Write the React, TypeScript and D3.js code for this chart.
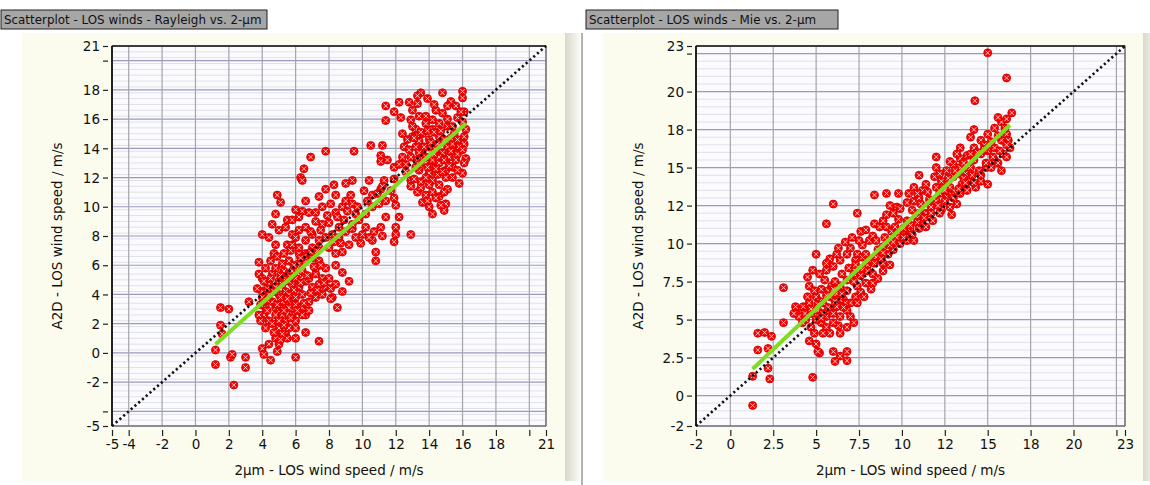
import * as d3 from 'd3';
import React, { useRef, useEffect } from 'react';

// Rayleigh vs 2-um (left panel), values in m/s
const rayleighPoints: [number, number][] = [
  [13.5,17.8],[13.3,17.6],[14.8,17.8],[16,17.9],[16,17.45],[12.2,17.15],[12.8,17.15],[13.3,17.05],[11.4,16.9],[11.9,16.5],
  [11.4,15.9],[15.3,17.2],[15.1,16.9],[14.8,16.4],[16.1,16.5],[12.9,15.95],[13.4,16.2],[13.8,15.7],[14.2,15.95],[14.6,15.7],
  [15.1,15.5],[15.7,16.1],[13.2,15.3],[13.6,15],[14.2,15.3],[12.4,15],[12.7,14.6],[13,14.8],[13.4,14.5],[14,14.6],
  [14.6,14.8],[15.5,15],[16.1,14.8],[16.1,14.3],[12.5,14.1],[12.8,13.9],[15.1,14.1],[15.6,13.8],[16.2,13.3],[13.3,13.2],
  [13.8,13],[14.2,13.2],[14.6,13],[15,13.2],[15.4,12.7],[16,12.3],[13.4,12.5],[14,12.3],[14.5,12.2],[15,12],
  [12.9,11.8],[13.5,11.7],[14.2,11.8],[12.9,11.4],[13.3,11],[13.8,10.8],[13.6,10.3],[14,10],[14.2,9.5],[14.6,10.7],
  [15,10.2],[14.9,9.75],[14.7,10.1],[13.2,14.1],[13.6,13.9],[14,14.1],[14.4,13.9],[14.8,13.7],[15.2,13.4],[15.6,13.2],
  [12.9,13.4],[13.4,13.7],[13.8,13.4],[14.6,13.4],[14.2,12.7],[15,12.5],[15.4,12],[13.2,12.7],[13.8,12],[14.6,11.5],
  [14.2,11],[13,15.5],[13.8,16.2],[14.4,16.6],[15.1,16],[15.4,15.5],[16,15.8],[16.2,15.3],[15.8,14.1],[15.4,14.3],
  [13.1,14.7],[13.5,15.1],[13.9,15.2],[14.3,15.1],[14.7,15.2],[15.3,14.7],[15.7,14.6],[14.1,14.4],[14.5,14.3],[14.9,14.6],
  [13.7,14.1],[14.3,13.6],[14.9,13.2],[15.3,13.8],[15.7,13.6],[16,13.9],[13.4,12.9],[13.9,12.7],[14.4,12.6],[14.8,12.4],
  [15.2,12.8],[13.1,11.9],[13.5,11.3],[14,11.5],[14.4,10.6],[13.9,10.4],[12.6,12.4],[12.6,12.9],[13,16.6],[13.9,17.4],
  [14.3,17],[15.6,16.9],[15.9,16.5],[12.3,16.1],[16.1,13],[15.7,12.5],[15.8,11.6],[15.1,11.2],[14.9,11],
  [10.5,14.2],[11.2,14.2],[11.1,13.5],[11.1,13.1],[11.5,13.2],[9.5,13.8],[7.8,13.8],[6.9,13.4],[6.5,12.6],[6.3,12],
  [6.4,11.8],[11.9,12.7],[12.4,13.4],[12.2,12.9],[11.9,11.9],[11.3,11.8],[10.4,11.8],[9.4,11.8],[9,11.6],[8.3,11.5],
  [7.8,11.2],[7.4,10.7],[8.4,10.8],[9.3,10.8],[10.1,11.1],[10.6,10.8],[11.1,11.2],[11.9,10.6],[12,10.1],[12.2,9.3],
  [12,8.6],[12,8.1],[11.9,7.6],[12.9,8.1],[11.4,9.3],[11.1,8.6],[11.2,8],[10.7,8.3],[10.6,7.7],[10.8,6.9],
  [10.8,6.3],[9.8,9.2],[9.4,8.5],[9.6,7.9],[9.2,7.4],[8.8,6.9],[8.6,7.9],[8.9,9.1],[8.4,9.6],[7.9,9.4],
  [7.6,8.8],[7.2,9],[6.8,9.6],[6.6,10.4],[6.4,9.7],[6,9.8],[5.5,9.1],[4.9,10.8],[5.1,10.3],[4.8,9.5],
  [4.6,8.8],[5,8.4],[4,8.1],[4.4,7.9],[4.8,7.4],[5.5,7.4],[4.7,6.8],[3.8,6.2],[5.7,7],[6.2,6.8],
  [6.6,7.7],[7,8.1],[7.4,7.2],[8,7.2],[8.4,6.8],[8.4,6],[8.8,5.5],[9.2,4.9],[8.8,4.2],[8.5,3.1],
  [8.2,3.8],[7.4,0.8],[6.6,1.4],[6,1],[6,-0.3],[8.2,8.1],[8.6,8.6],[9,8.3],[9.4,8.8],[9.8,9.1],
  [10.2,9.5],[10.6,10],[11,10.2],[11.4,10.4],[11.7,11.1],[10.2,8.6],[10.4,7.9],[7.8,7.9],[7.4,7.7],[7,7.2],
  [6.6,8.6],[6.2,8.4],[5.8,8.1],[5.4,8.6],[5.8,9.1],[6.2,9.3],[7.2,9.6],[7.6,10],[8.1,10.2],[8.8,10],
  [9,10.4],[9.4,10.2],[9.6,9.5],[4.2,5.8],[4.6,5.4],[5,4.9],[5.4,5.1],[5.8,5.6],[6.2,6.1],[6.6,6.3],
  [7,6.5],[7.4,6.3],[7.8,5.8],[6.2,5.4],[6.6,4.9],[7,4.5],[7.4,4.7],[7.8,4.5],[5.8,4.7],[5.4,4.2],
  [5,4],[4.6,3.5],[4.2,3.1],[4.1,2.6],[4.4,2.2],[4.8,2.6],[5.2,3.1],[5.6,3.5],[6,3.8],[6.4,4],
  [6.8,3.5],[7.2,3.8],[7.6,4],[6.2,3.1],[6.6,2.6],[5.8,2.6],[5.4,2.2],[5,1.7],[5.4,1.3],[5,0.6],
  [4.9,0.1],[4.4,0.6],[4,0.3],[4.1,-0.1],[4.5,-0.5],[5.5,1],[6,2.2],[8.1,3.7],[6.2,4.5],[6.8,5.1],
  [7.2,5.4],[5.6,6.3],[5.2,6.1],[4.8,5.8],[4.4,4.7],[4,4.2],[4,3.8],[4.4,4],[4.8,4.5],[5.2,4.7],
  [5.6,4.9],[6,5.1],[6.4,5.6],[6.6,6.8],[6.2,7.2],[5.8,7.4],[7.2,5.8],[7.6,5.1],[8,5.1],[8.1,4.4],
  [8.4,4.7],[5.2,3.5],[5.6,4],[4.8,3.1],[5.2,2.6],[5.6,3.1],[6,3.3],[6.4,3.1],[6.8,2.9],[6.4,2.6],
  [6,1.7],[5.6,1.7],[5.2,1.3],[4.8,1],[4.2,1.7],[3.9,2.2],[3.8,2.6],[1.5,3.1],[2,3],[1.5,1.9],
  [1.2,0.2],[1.2,-0.8],[2.1,-0.3],[2.2,-0.1],[3,-0.3],[3,-1],[2.3,-2.2],[1.6,1.3],[3.2,3.5],[3.7,4.4],
  [3.8,5.4],[4,5.1],[4.3,4.4],[4.7,4.2],[5.1,3.8],[5.5,3.7],[5.9,4.3],[6.3,4.8],[6.7,5.3],[7.1,5.9],
  [7.5,6],[5.3,5.6],[5.7,5.2],[6.1,5.8],[6.5,6.6],[6.9,6.9],[7.3,7],[4.5,6.3],[4.9,6.6],[5.3,6.8],
  [5.1,5.3],[4.9,3.3],[5.3,2.9],[5.7,2.4],[6.1,2.9],[6.5,3.4],[6.9,4.1],[7.3,4.3],[7.7,4.8],[4.3,2.9],
  [4.6,2],[5,2.2],[5.3,1.9],[4.7,1.4],[5.1,0.9],[4.3,3.6],[3.9,3.3],[4.1,4.9],[4.5,5.1],[5.9,6],
  [6.3,6.5],[6,7.9],[6.9,8.3],[7.5,8.4],[8,8.9],[8.5,9.3],[9.1,9.7],[9.7,10],[10.3,10.4],[10.9,10.9],
  [11.2,11.4],[9.9,7.5],[10,8.1],[8.7,7.5],[8.3,7.6],
];

// Mie vs 2-um (right panel)
const miePoints: [number, number][] = [
  [15,22.55],[16.1,20.9],[14.25,19.4],[6,12.6],[7.4,12],[5.6,11.3],[3.1,7.1],[3.1,4.8],[5,9.3],[4.8,1.2],
  [1.3,-0.65],[1.6,4.1],[2,4.15],[2.4,3.9],[1.6,3],[2.2,3.1],[2.2,1.8],[2.3,1.1],[1.3,1.27],[5.2,2.8],
  [6,2.9],[6.4,2.6],[6.8,2.9],[6.8,2.3],[6.3,4.6],[6.1,2.25],[4,5.4],[4.25,5.85],[4.6,6.1],[4.4,5],
  [4.7,4.5],[4.9,4.1],[5,3.4],[5.1,2.9],[4.6,3.6],[5.3,4.8],[5.6,5.2],[6,4.8],[6.4,5.2],[6.8,5.6],
  [7,6.1],[7.3,6.5],[6.6,6.3],[6.2,5.85],[5.8,5.6],[5.4,6.1],[5,6.5],[4.6,7.2],[4.5,7.8],[4.8,8.25],
  [5.2,8],[5.6,8.25],[5.5,7.6],[5.9,7.2],[6.2,6.7],[6.4,7.2],[6.8,7.6],[7.2,8],[7.4,7.2],[7.6,6.8],
  [7.9,7.4],[8.3,7.4],[8.3,8],[6,8.5],[6.4,8.9],[6.8,9.3],[7,9.7],[7.4,9.3],[7.3,8.9],[7.7,9.1],
  [7.9,9.3],[7.7,9.9],[6.2,9.3],[5.8,9],[5.6,8.7],[7.6,10.8],[7.9,10.9],[7.5,10.2],[8.1,10.2],[8.3,10.5],
  [8.5,10.2],[8.4,11.3],[8.7,11.1],[8.9,11.5],[9.1,11.9],[9.1,11.1],[9.4,10.8],[9,10.4],[8.9,9.8],[9.2,9.3],
  [9.5,9.6],[8.9,8.7],[9.1,13.3],[9.8,13.3],[8.4,13.2],[9.3,12.5],[9.7,12.4],[10.1,10.7],[10.3,10.2],[10.7,10.2],
  [10.5,10.8],[10.3,11.5],[10.6,12.2],[10.7,12.8],[11,13],[11.2,13.5],[11.1,12.6],[11,12],[11.1,11.4],[11.4,11.1],
  [11.4,12],[11.7,12.4],[12,12.8],[12.2,13.3],[12.6,13.1],[12.8,13.7],[12.4,13.9],[12.9,11.9],[13.2,12.6],[13.4,13.3],
  [13.7,13.7],[12,13.7],[11.9,14.4],[12,15],[12,15.7],[12.2,14.6],[12.6,14.8],[13,15.2],[13.4,15.6],[13.8,15.8],
  [14.2,16.3],[14.6,16.8],[15,17.2],[15.4,17.6],[15.8,18],[16.1,18.2],[14.2,17.5],[14,17],[13.4,16.3],[13.2,15.9],
  [12.8,15.4],[13.3,14.6],[13.7,14.6],[14,15],[14.2,15.5],[14.6,15.9],[15,16.1],[15.4,16.3],[15.8,16.8],[16.1,17.2],
  [16.2,16.8],[16.3,16.3],[15.8,14.8],[15,13.9],[14.6,14.1],[14.3,13.7],[14,14.1],[14.9,15],[15.4,15.5],[15.9,15.9],
  [16.1,15.7],[13.4,15],[13,14.4],[12.8,12.4],[12.5,13.5],[13.5,13.9],[11.4,13.9],[11,14.5],[10.7,13.7],[10.4,13.3],
  [10.1,10.4],[4.35,5.4],[4.7,5.4],[5.1,5.6],[5.4,5.4],[5,5],[5.6,4.5],[5.8,4.1],[5.4,4.1],[6.4,4.1],
  [6.8,4.5],[7.2,4.8],[6,5.4],[6.7,6.1],[5.8,6.5],[4,5.2],[3.7,5.4],[3.8,5.85],[4.2,4.8],[16.4,18.6],
  [15.6,18.3],[14.8,16.5],[13.6,14.3],[12.3,12.2],[11.6,12.9],[10.9,11.7],[9.8,11.6],[9.6,11.1],[8.6,9.6],[8,8.6],
  [4.5,6.5],[4.9,6.9],[5.3,7],[5.7,6.9],[6.1,7.5],[6.5,8],[6.9,8.4],[7.3,8.6],[7.7,8.3],[8.1,8.9],
  [8.5,9.1],[8.9,9.4],[9.3,9.9],[9.7,10.4],[10.1,11],[10.5,11.2],[10.9,11.4],[11.3,11.7],[11.7,12],[12.1,12.5],
  [12.5,12.8],[12.9,13.2],[13.3,13.6],[13.7,14],[14.1,14.5],[14.5,14.8],[14.9,15.3],[15.3,15.7],[15.7,16.1],[16.1,16.5],
  [5.2,6.2],[5.6,6.6],[6,7],[6.4,6.3],[6.8,6.9],[7.2,7.5],[7.6,7.9],[8,8.2],[8.4,8.7],[8.8,9],
  [5.3,5.1],[5.7,5.8],[6.1,6.2],[6.5,6.7],[4.7,5.7],[5.1,6],[6.3,9.7],[6.7,10.1],[7.1,10.4],[9.5,12],
  [9.9,12.3],[10.3,12.7],[10.9,13.3],[11.5,13.4],[12.3,14.1],[12.7,14.3],[13.1,14.8],[13.6,15.3],[14,15.9],[14.4,16],
  [14.8,16.2],[15.2,16.7],[15.6,17.1],[16,17.6],[15.2,15],[15.6,15.3],[14.6,14.5],[14.2,14],[13.8,13.5],[13,13],
  [12.2,12],[11.8,11.5],[11,11],[10.6,10.6],[9.9,10],[9.5,10.1],[7,5.2],[6.6,5.8],[7.4,6.1],[7.8,6.5],
  [8.2,7],[8.6,7.7],[8.9,8.2],[9.3,8.6],
];

const rayleighFit: [number, number][] = [[1.2, 0.6], [16.2, 15.7]];
const mieFit: [number, number][] = [[1.3, 1.75], [16.3, 17.8]];

const rayleighTicks = [-5, -4, -2, 0, 2, 4, 6, 8, 10, 12, 14, 16, 18, 20, 21];
const rayleighXLabels = ['-5', '-4', '-2', '0', '2', '4', '6', '8', '10', '12', '14', '16', '18', '', '21'];
const rayleighYLabels = ['-5', '', '-2', '0', '2', '4', '6', '8', '10', '12', '14', '16', '18', '', '21'];

const mieTicks = [-2, 0, 2.5, 5, 7.5, 10, 12.5, 15, 17.5, 20, 22.5, 23];
const mieLabels = ['-2', '0', '2.5', '5', '7.5', '10', '12', '15', '18', '20', '', '23'];

const FONT = 'DejaVu Sans, Verdana, sans-serif';

function draw(svgEl, cfg) {
  const svg = d3.select(svgEl).append('g');
  const x = d3.scaleLinear().domain(cfg.domain).range([cfg.left, cfg.right]);
  const y = d3.scaleLinear().domain(cfg.domain).range([cfg.bottom, cfg.top]);

  // panel + shadow
  svg.append('rect').attr('x', cfg.panelX).attr('y', 33).attr('width', cfg.panelW).attr('height', 448).attr('fill', '#fbfbee');
  svg.append('rect').attr('x', cfg.panelX + cfg.panelW).attr('y', 33).attr('width', 15).attr('height', 448).attr('fill', 'url(#shadow)');

  // title
  svg.append('rect').attr('x', cfg.titleX).attr('y', 10).attr('width', cfg.titleW).attr('height', 19)
    .attr('fill', '#a6a6a6').attr('stroke', '#202020').attr('stroke-width', 1);
  svg.append('text').attr('x', cfg.titleX + 3).attr('y', 24).attr('font-family', FONT).attr('font-size', 11.9)
    .attr('fill', '#111').text(cfg.title);

  // plot area
  svg.append('rect').attr('x', cfg.left).attr('y', cfg.top).attr('width', cfg.right - cfg.left)
    .attr('height', cfg.bottom - cfg.top).attr('fill', '#fbfbfe');

  const minor = d3.range(cfg.domain[0], cfg.domain[1] + 1e-6, cfg.minor);
  svg.append('g').selectAll('line').data(minor).enter().append('line')
    .attr('x1', cfg.left).attr('x2', cfg.right).attr('y1', d => y(d)).attr('y2', d => y(d))
    .attr('stroke', '#e0e0ea').attr('stroke-width', 1);
  svg.append('g').selectAll('line').data(cfg.ticks).enter().append('line')
    .attr('x1', cfg.left).attr('x2', cfg.right).attr('y1', d => y(d)).attr('y2', d => y(d))
    .attr('stroke', '#9a9ac0').attr('stroke-width', 1.2);
  svg.append('g').selectAll('line').data(cfg.ticks).enter().append('line')
    .attr('y1', cfg.top).attr('y2', cfg.bottom).attr('x1', d => x(d)).attr('x2', d => x(d))
    .attr('stroke', '#a4a4ac').attr('stroke-width', 1.2);

  // frame
  svg.append('rect').attr('x', cfg.left).attr('y', cfg.top).attr('width', cfg.right - cfg.left)
    .attr('height', cfg.bottom - cfg.top).attr('fill', 'none').attr('stroke', '#555').attr('stroke-width', 1);
  svg.append('line').attr('x1', cfg.left).attr('x2', cfg.right).attr('y1', cfg.top).attr('y2', cfg.top)
    .attr('stroke', '#222').attr('stroke-width', 1.5);
  svg.append('line').attr('x1', cfg.left).attr('x2', cfg.left).attr('y1', cfg.top).attr('y2', cfg.bottom)
    .attr('stroke', '#222').attr('stroke-width', 2);

  // axes
  const yAxis = d3.axisLeft(y).tickValues(cfg.ticks).tickFormat((d, i) => cfg.yLabels[i]).tickSize(5).tickPadding(3);
  const xAxis = d3.axisBottom(x).tickValues(cfg.ticks).tickFormat((d, i) => cfg.xLabels[i]).tickSize(6).tickPadding(3);
  const ya = svg.append('g').attr('transform', `translate(${cfg.left - 4},0)`).call(yAxis);
  const xa = svg.append('g').attr('transform', `translate(0,${cfg.bottom + 4})`).call(xAxis);
  [ya, xa].forEach(a => {
    a.select('.domain').remove();
    a.selectAll('line').attr('stroke', '#222').attr('stroke-width', 1.2);
    a.selectAll('text').attr('font-family', FONT).attr('font-size', 13.5).attr('fill', '#111');
  });
  ya.selectAll('text').attr('dy', '0.35em');

  // axis titles
  svg.append('text').attr('x', (cfg.left + cfg.right) / 2).attr('y', 475).attr('text-anchor', 'middle')
    .attr('font-family', FONT).attr('font-size', 13.5).attr('fill', '#111').text('2µm - LOS wind speed / m/s');
  svg.append('text').attr('transform', `translate(${cfg.left - cfg.yTitleOff},${(cfg.top + cfg.bottom) / 2}) rotate(-90)`)
    .attr('text-anchor', 'middle').attr('font-family', FONT).attr('font-size', 13.5).attr('fill', '#111')
    .text('A2D - LOS wind speed / m/s');

  // points
  const pts = svg.append('g');
  const mk = pts.selectAll('g').data(cfg.points).enter().append('g')
    .attr('transform', d => `translate(${x(d[0])},${y(d[1])})`);
  mk.append('circle').attr('r', 4).attr('fill', '#ff0000').attr('stroke', '#c80000').attr('stroke-width', 0.8);
  mk.append('path').attr('d', 'M-2.2,-2.2L2.2,2.2M-2.2,2.2L2.2,-2.2').attr('stroke', '#ffdede').attr('stroke-width', 0.9);

  // 1:1 line
  const ln = d3.line().x(d => x(d[0])).y(d => y(d[1]));
  svg.append('path').attr('d', ln([[cfg.domain[0], cfg.domain[0]], [cfg.domain[1], cfg.domain[1]]]))
    .attr('stroke', '#111').attr('stroke-width', 2.6).attr('stroke-dasharray', '2.2 2.8').attr('fill', 'none');

  // regression
  svg.append('path').attr('d', ln(cfg.fit)).attr('stroke', '#80dc20').attr('stroke-width', 4)
    .attr('fill', 'none');
}

export default function App() {
  const ref = useRef(null);
  useEffect(() => {
    d3.select(ref.current).selectAll('g').remove();
    draw(ref.current, {
      title: 'Scatterplot - LOS winds - Rayleigh vs. 2-µm', titleX: 1, titleW: 266,
      panelX: 22, panelW: 543, left: 112, right: 546, top: 46, bottom: 426, yTitleOff: 50,
      domain: [-5, 21], ticks: rayleighTicks, xLabels: rayleighXLabels, yLabels: rayleighYLabels,
      minor: 0.4, points: rayleighPoints, fit: rayleighFit,
    });
    d3.select(ref.current).append('g').append('line').attr('x1', 582).attr('x2', 582).attr('y1', 33).attr('y2', 485)
      .attr('stroke', '#9a9a9a').attr('stroke-width', 1.5);
    draw(ref.current, {
      title: 'Scatterplot - LOS winds - Mie vs. 2-µm', titleX: 586, titleW: 252,
      panelX: 603, panelW: 540, left: 696, right: 1125, top: 46, bottom: 426, yTitleOff: 53,
      domain: [-2, 23], ticks: mieTicks, xLabels: mieLabels, yLabels: mieLabels,
      minor: 0.5, points: miePoints, fit: mieFit,
    });
  }, []);

  return (
    <svg ref={ref} width={1150} height={485} style={{ position: 'absolute', left: 0, top: 0, background: '#fff' }}>
      <defs>
        <linearGradient id="shadow" x1="0" x2="1" y1="0" y2="0">
          <stop offset="0" stopColor="#d8d8cc" />
          <stop offset="1" stopColor="#fbfbf6" />
        </linearGradient>
      </defs>
    </svg>
  );
}
